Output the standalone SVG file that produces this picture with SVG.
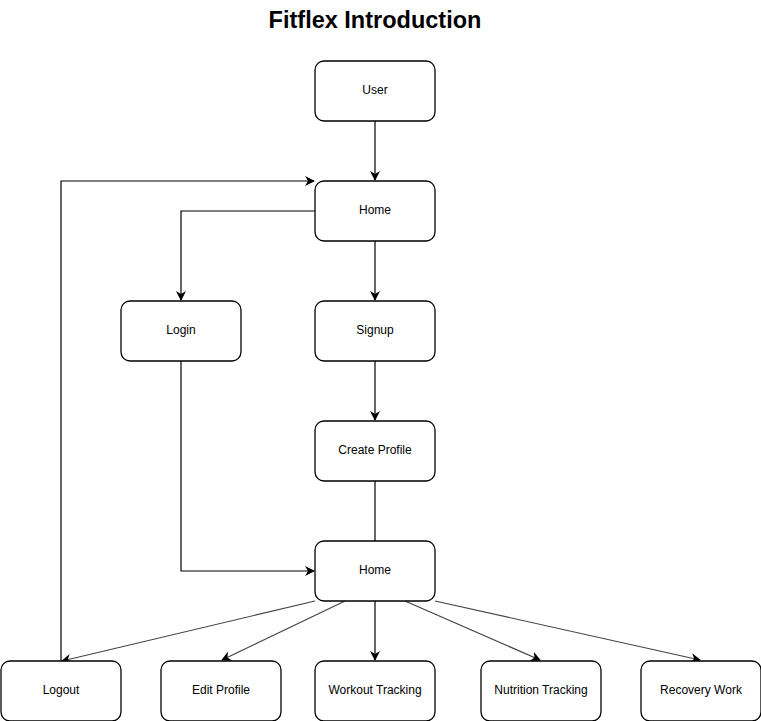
<svg xmlns="http://www.w3.org/2000/svg" width="761" height="721" viewBox="0 0 761 721">
<style>
.n rect{fill:#fff;stroke:#000;stroke-width:1.3}
.n text{font-family:"Liberation Sans",Arial,sans-serif;font-size:12px;text-anchor:middle;dominant-baseline:central;fill:#000}
.c path{fill:none;stroke:#000;stroke-width:1.2}
.c path.g{stroke:#444}
.t{font-family:"Liberation Sans",Arial,sans-serif;font-size:23.5px;font-weight:bold;text-anchor:middle;fill:#000}
</style>
<defs>
<marker id="a" viewBox="0 0 10 10" refX="9" refY="5" markerWidth="10" markerHeight="10" markerUnits="userSpaceOnUse" orient="auto">
<path d="M0,0 L10,5 L0,10 L3,5 Z" fill="#000"/>
</marker>
</defs>
<rect width="761" height="721" fill="#fff"/>
<text class="t" x="375" y="28">Fitflex Introduction</text>
<g class="c">
<path d="M375,121 V180" marker-end="url(#a)"/>
<path d="M315,211 H181 V300" marker-end="url(#a)"/>
<path d="M375,241 V300" marker-end="url(#a)"/>
<path d="M375,361 V420" marker-end="url(#a)"/>
<path d="M375,481 V541"/>
<path d="M181,361 V571 H314" marker-end="url(#a)"/>
<path d="M61,661 V181 H314" marker-end="url(#a)"/>
<path d="M375,601 V660" marker-end="url(#a)"/>
<path class="g" d="M315,601 L62,661" marker-end="url(#a)"/>
<path class="g" d="M345,601 L222,660" marker-end="url(#a)"/>
<path class="g" d="M405,601 L540,660" marker-end="url(#a)"/>
<path class="g" d="M435,601 L700,660" marker-end="url(#a)"/>
</g>
<g id="user" class="n"><rect x="315" y="61" width="120" height="60" rx="9"/><text x="375" y="90">User</text></g>
<g id="home" class="n"><rect x="315" y="181" width="120" height="60" rx="9"/><text x="375" y="210">Home</text></g>
<g id="login" class="n"><rect x="121" y="301" width="120" height="60" rx="9"/><text x="181" y="330">Login</text></g>
<g id="signup" class="n"><rect x="315" y="301" width="120" height="60" rx="9"/><text x="375" y="330">Signup</text></g>
<g id="create-profile" class="n"><rect x="315" y="421" width="120" height="60" rx="9"/><text x="375" y="450">Create Profile</text></g>
<g id="home2" class="n"><rect x="315" y="541" width="120" height="60" rx="9"/><text x="375" y="570">Home</text></g>
<g id="logout" class="n"><rect x="1" y="661" width="120" height="60" rx="9"/><text x="61" y="690">Logout</text></g>
<g id="edit-profile" class="n"><rect x="161" y="661" width="120" height="60" rx="9"/><text x="221" y="690">Edit Profile</text></g>
<g id="workout" class="n"><rect x="315" y="661" width="120" height="60" rx="9"/><text x="375" y="690">Workout Tracking</text></g>
<g id="nutrition" class="n"><rect x="481" y="661" width="120" height="60" rx="9"/><text x="541" y="690">Nutrition Tracking</text></g>
<g id="recovery" class="n"><rect x="641" y="661" width="120" height="60" rx="9"/><text x="701" y="690">Recovery Work</text></g>
</svg>
